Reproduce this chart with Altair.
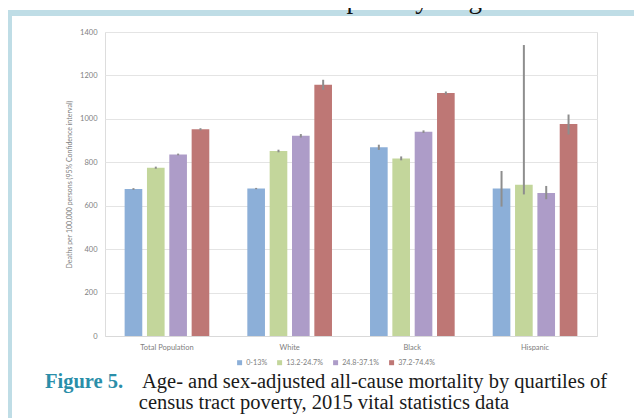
import altair as alt
import pandas as pd

groups = ["Total Population", "White", "Black", "Hispanic"]
quartiles = ["0-13%", "13.2-24.7%", "24.8-37.1%", "37.2-74.4%"]
colors = ["#8cafd8", "#c3d69b", "#ad9cc8", "#be7775"]

# rate per group, one entry per quartile
total_rate = [677, 775, 836, 952]
white_rate = [679, 852, 922, 1157]
black_rate = [869, 818, 941, 1119]
hisp_rate = [679, 697, 659, 976]

# 95% confidence interval bounds
total_lo = [673, 770, 832, 947]
total_hi = [681, 780, 840, 957]
white_lo = [676, 846, 914, 1134]
white_hi = [682, 858, 930, 1180]
black_lo = [857, 809, 935, 1112]
black_hi = [881, 827, 947, 1126]
hisp_lo = [596, 652, 630, 928]
hisp_hi = [760, 1340, 691, 1020]

rates = [total_rate, white_rate, black_rate, hisp_rate]
los = [total_lo, white_lo, black_lo, hisp_lo]
his = [total_hi, white_hi, black_hi, hisp_hi]

rows = []
for g, r, lo, hi in zip(groups, rates, los, his):
    for q, v, a, b in zip(quartiles, r, lo, hi):
        rows.append({"group": g, "quartile": q, "rate": v, "lo": a, "hi": b})
df = pd.DataFrame(rows)

FONT = "Lato"
GRAY = "#808080"

x_enc = alt.X("group:N", sort=groups,
              scale=alt.Scale(paddingInner=0.31, paddingOuter=0.16),
              axis=alt.Axis(title=None, labelAngle=0, ticks=False, domainColor="#d9d9d9",
                            labelPadding=7, labelFont=FONT, labelFontSize=7.5,
                            labelColor=GRAY))
xo_enc = alt.XOffset("quartile:N", sort=quartiles,
                     scale=alt.Scale(paddingInner=0.21, paddingOuter=0))

base = alt.Chart(df)

bars = base.mark_bar().encode(
    x=x_enc,
    xOffset=xo_enc,
    y=alt.Y("rate:Q",
            scale=alt.Scale(domain=[0, 1400], nice=False),
            axis=alt.Axis(values=[0, 200, 400, 600, 800, 1000, 1200, 1400], format="d",
                          domain=False, ticks=False, gridColor="#e4e4e4",
                          labelFont=FONT, labelFontSize=7.5, labelColor=GRAY,
                          labelPadding=8,
                          title="Deaths per 100,000 persons (95% Confidence interval)",
                          titleFont=FONT, titleFontSize=7, titleFontWeight="normal",
                          titleColor=GRAY, titlePadding=7)),
    color=alt.Color("quartile:N", sort=quartiles,
                    scale=alt.Scale(domain=quartiles, range=colors),
                    legend=alt.Legend(orient="none", legendX=131, legendY=327,
                                      direction="horizontal", columns=4, title=None,
                                      symbolType="square", symbolSize=25,
                                      symbolStrokeWidth=0, labelFont=FONT,
                                      labelFontSize=7.2, labelColor=GRAY,
                                      columnPadding=8, labelOffset=3)),
)

errs = base.mark_rule(color="#8e8e8e", strokeWidth=2).encode(
    x=alt.X("group:N", sort=groups),
    xOffset=alt.XOffset("quartile:N", sort=quartiles),
    y="lo:Q",
    y2="hi:Q",
)

one = pd.DataFrame({"k": [0]})

frame_top = alt.Chart(one).mark_rect(color="#bfdde6").encode(
    x=alt.value(-97), x2=alt.value(529), y=alt.value(-22), y2=alt.value(-16))
frame_left = alt.Chart(one).mark_rect(color="#bfdde6").encode(
    x=alt.value(-97), x2=alt.value(-93), y=alt.value(-22), y2=alt.value(400))

top_text = alt.Chart(pd.DataFrame({"t": ["lowest were observed in the lower poverty neighborhoods"]})).mark_text(
    font="Liberation Serif", fontSize=27, align="left", baseline="alphabetic", color="#111111"
).encode(text="t:N", x=alt.value(-135), y=alt.value(-24))

cap_fig = alt.Chart(pd.DataFrame({"t": ["Figure 5."]})).mark_text(
    font="Liberation Serif", fontSize=20.5, fontWeight="bold", align="left",
    baseline="alphabetic", color="#2a8ea9"
).encode(text="t:N", x=alt.value(-60), y=alt.value(356))

cap_1 = alt.Chart(pd.DataFrame({"t": ["Age- and sex-adjusted all-cause mortality by quartiles of"]})).mark_text(
    font="Liberation Serif", fontSize=20.5, align="left", baseline="alphabetic", color="#1a1a1a"
).encode(text="t:N", x=alt.value(37), y=alt.value(356))

cap_2 = alt.Chart(pd.DataFrame({"t": ["census tract poverty, 2015 vital statistics data"]})).mark_text(
    font="Liberation Serif", fontSize=20.5, align="center", baseline="alphabetic", color="#1a1a1a"
).encode(text="t:N", x=alt.value(219), y=alt.value(377))

chart = alt.layer(bars, errs, frame_top, frame_left, top_text, cap_fig, cap_1, cap_2).properties(
    width=492, height=304,
    autosize=alt.AutoSizeParams(type="none"),
    padding={"left": 97, "top": 24, "right": 37, "bottom": 82},
).configure_view(stroke=None).configure(background="white")

chart.save("out.html", embed_options={"renderer": "svg", "actions": False})
